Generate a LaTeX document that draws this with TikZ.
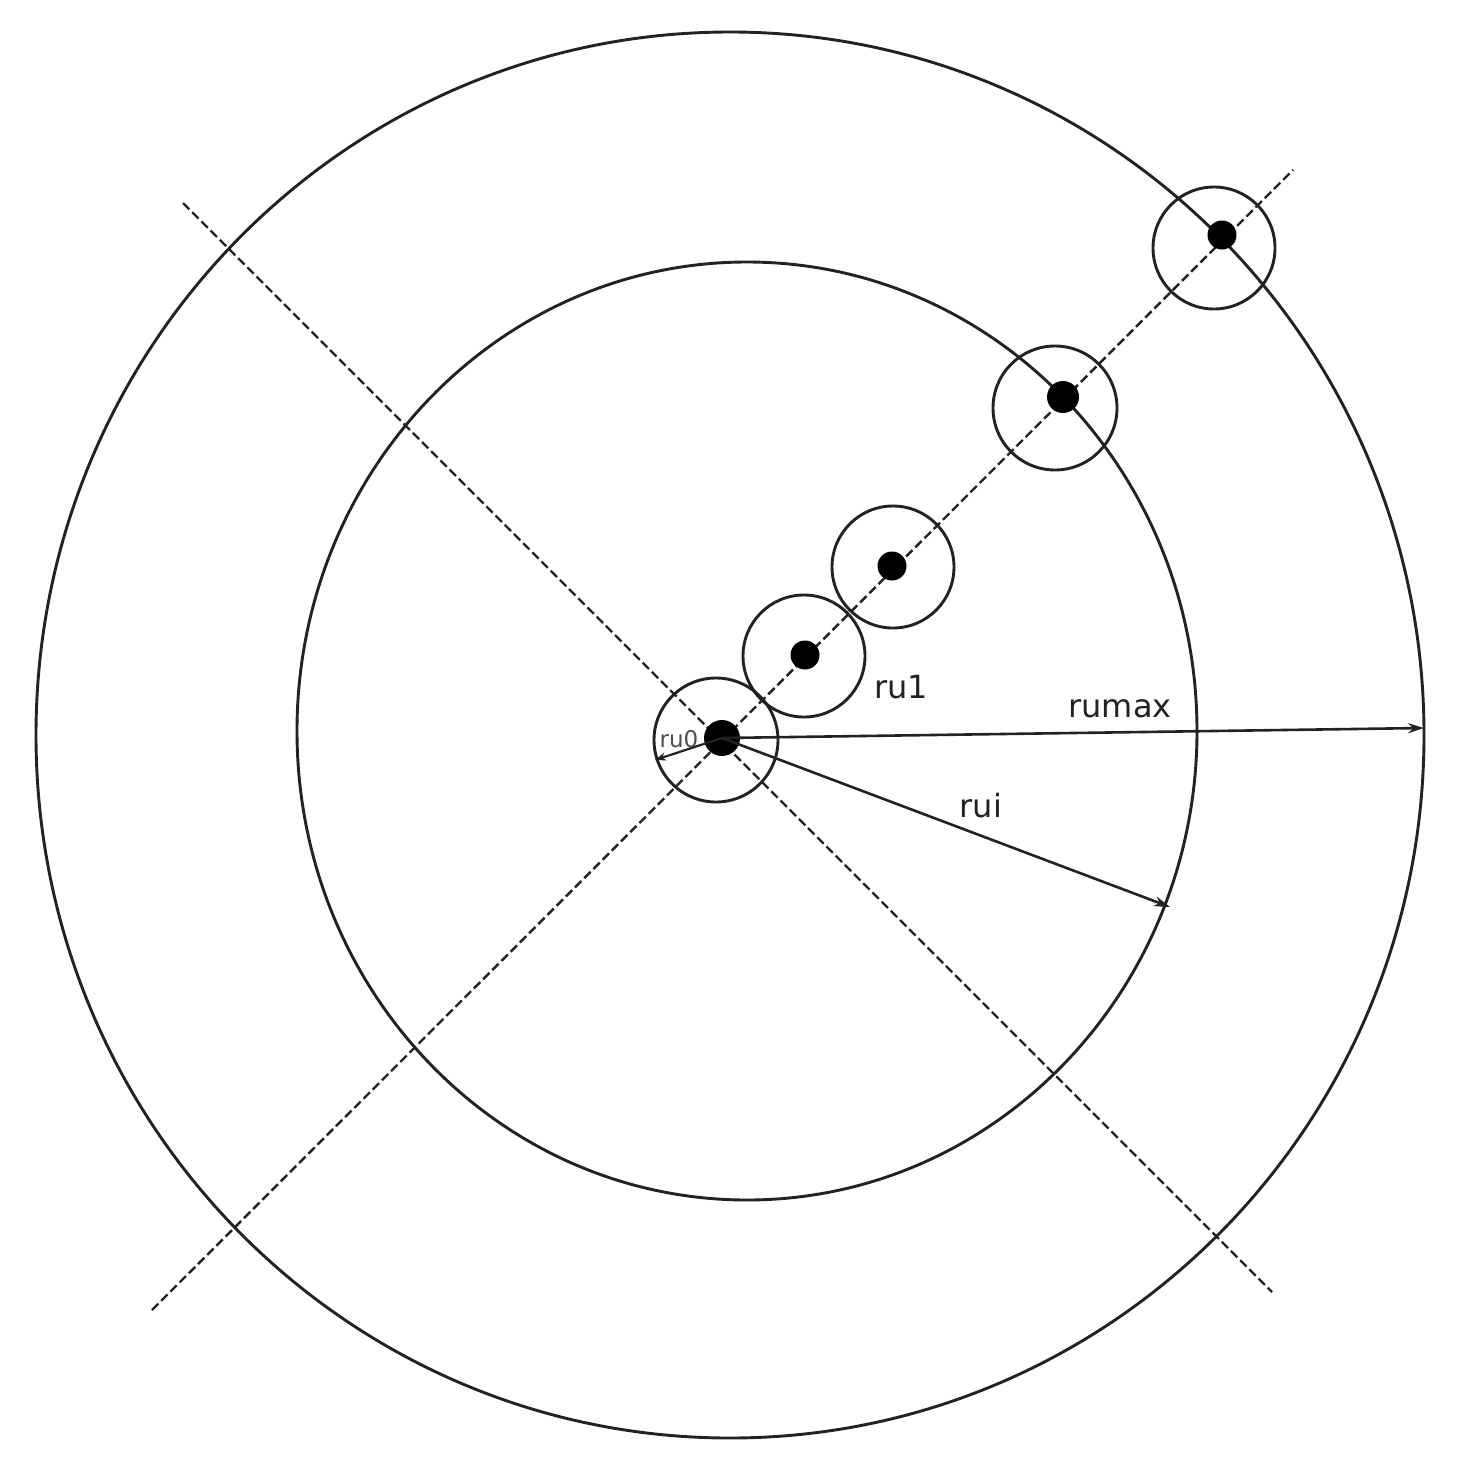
\documentclass[tikz,border=0pt]{standalone}
\usepackage{fontspec}
\newfontfamily\labfont{DejaVu Sans}
\usetikzlibrary{arrows.meta}
\definecolor{ink}{HTML}{222222}
\begin{document}
\begin{tikzpicture}[x=1pt,y=-1pt,
  bigring/.style={draw=ink,line width=2.9pt},
  ring/.style={circle,draw=ink,line width=2.9pt,inner sep=0pt,fill=none},
  dot/.style={circle,fill=black,inner sep=0pt},
  axis/.style={draw=ink,line width=2.4pt,dash pattern=on 9pt off 4pt},
  radius arrow/.style={draw=ink,line width=2.6pt,-{Stealth[length=16pt,width=10pt]}},
  lab/.style={font=\labfont\fontsize{32}{38}\selectfont,text=ink,inner sep=0pt,anchor=base}]
\useasboundingbox (0,0) rectangle (1457,1475);
\fill[white] (0,0) rectangle (1457,1475);
% big circles
\draw[bigring] (730,735) ellipse [x radius=694pt, y radius=703pt];
\draw[bigring] (747,731) ellipse [x radius=450pt, y radius=469pt];
% axes
\coordinate (a1) at (183,203);
\coordinate (a2) at (1272,1292);
\coordinate (b1) at (152,1310);
\coordinate (b2) at (1293,170);
\draw[axis] (a1) -- (a2);
\draw[axis] (b1) -- (b2);
% small rings
\node[ring,minimum size=124pt] (c0) at (716,740) {};
\node[ring,minimum size=122pt] (c1) at (804,656) {};
\node[ring,minimum size=122pt] (c2) at (893,567) {};
\node[ring,minimum size=124pt] (c3) at (1055,408) {};
\node[ring,minimum size=122pt] (c4) at (1214,248) {};
% dots
\node[dot,minimum size=36pt] (d0) at (722,738) {};
\node[dot,minimum size=29pt] (d1) at (805,655) {};
\node[dot,minimum size=29pt] (d2) at (892,566) {};
\node[dot,minimum size=32pt] (d3) at (1063,397) {};
\node[dot,minimum size=29pt] (d4) at (1222,235) {};
% radius arrows
\coordinate (pmax) at (1424,728);
\coordinate (pi) at (1170,907);
\coordinate (p0) at (655,760);
\draw[radius arrow] (d0.center) -- (pmax);
\draw[radius arrow] (d0.center) -- (pi);
\draw[draw=ink,line width=2.2pt,-{Stealth[length=11pt,width=8pt]}] (d0.center) -- (p0);
% labels
\node[lab] (l1) at (901,698) {ru1};
\node[lab] (lmax) at (1120,717) {rumax};
\node[lab] (li) at (981,817) {rui};
\node[lab,font=\labfont\fontsize{23}{28}\selectfont,text=ink!80] (l0) at (679,747) {ru0};
\end{tikzpicture}
\end{document}
